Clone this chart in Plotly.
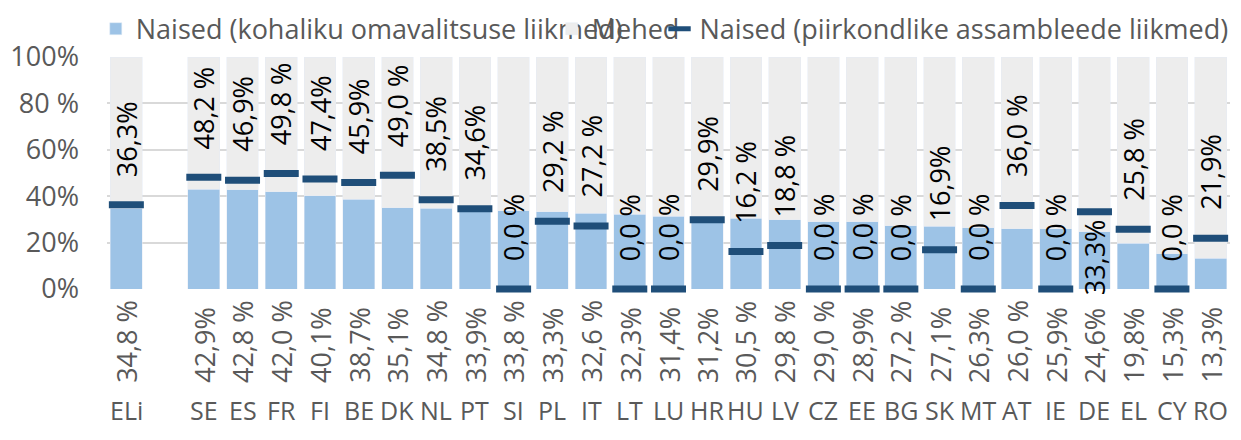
import plotly.graph_objects as go

# categories (blank slot after the EU average)
countries = ["ELi", " ", "SE", "ES", "FR", "FI", "BE", "DK", "NL", "PT", "SI", "PL", "IT", "LT",
             "LU", "HR", "HU", "LV", "CZ", "EE", "BG", "SK", "MT", "AT", "IE", "DE", "EL", "CY", "RO"]

# women, local councils (%)
women_local = [34.8, None, 42.9, 42.8, 42.0, 40.1, 38.7, 35.1, 34.8, 33.9, 33.8, 33.3, 32.6, 32.3,
               31.4, 31.2, 30.5, 29.8, 29.0, 28.9, 27.2, 27.1, 26.3, 26.0, 25.9, 24.6, 19.8, 15.3, 13.3]
local_labels = ["34,8 %", "", "42,9%", "42,8 %", "42,0 %", "40,1%", "38,7%", "35,1%", "34,8 %", "33,9%",
                "33,8 %", "33,3%", "32,6 %", "32,3%", "31,4%", "31,2%", "30,5 %", "29,8 %", "29,0 %",
                "28,9%", "27,2 %", "27,1%", "26,3%", "26,0 %", "25,9%", "24,6%", "19,8%", "15,3%", "13,3%"]

# women, regional assemblies (%)
women_regional = [36.3, None, 48.2, 46.9, 49.8, 47.4, 45.9, 49.0, 38.5, 34.6, 0.0, 29.2, 27.2, 0.0,
                  0.0, 29.9, 16.2, 18.8, 0.0, 0.0, 0.0, 16.9, 0.0, 36.0, 0.0, 33.3, 25.8, 0.0, 21.9]
regional_labels = ["36,3%", "", "48,2 %", "46,9%", "49,8 %", "47,4%", "45,9%", "49,0 %", "38,5%", "34,6%",
                   "0,0 %", "29,2 %", "27,2 %", "0,0 %", "0,0 %", "29,9%", "16,2 %", "18,8 %", "0,0 %",
                   "0,0 %", "0,0 %", "16,9%", "0,0 %", "36,0 %", "0,0 %", "33,3%", "25,8 %", "0,0 %", "21,9%"]

men = [None if v is None else round(100 - v, 1) for v in women_local]

FONT = "Open Sans"
TXT = "#595959"
FS = 27

fig = go.Figure()
fig.add_trace(go.Bar(x=countries, y=women_local, name="Naised (kohaliku omavalitsuse liikmed)",
                     marker_color="#9DC3E6", legend="legend"))
fig.add_trace(go.Bar(x=countries, y=men, name="Mehed", marker_color="#EDEDED", legend="legend2"))
fig.add_trace(go.Scatter(x=countries, y=women_regional, mode="markers",
                         name="Naised (piirkondlike assambleede liikmed)",
                         marker=dict(symbol="line-ew", size=25, color="#1F4E79",
                                     line=dict(width=7, color="#1F4E79")),
                         cliponaxis=False, legend="legend3"))

ann = []
for c, loc, reg, rl, ll in zip(countries, women_local, women_regional, regional_labels, local_labels):
    if loc is None:
        continue
    if c == "DE":  # this label sits under its marker in the original
        ann.append(dict(x=c, y=reg, text=rl, textangle=-90, showarrow=False,
                        yanchor="middle", yshift=-45,
                        font=dict(size=FS, color="black", family=FONT)))
    else:
        ann.append(dict(x=c, y=reg, text=rl, textangle=-90, showarrow=False,
                        yanchor="bottom", yshift=26,
                        font=dict(size=FS, color="black", family=FONT)))
    ann.append(dict(x=c, y=0, text=ll, textangle=-90, showarrow=False, yanchor="bottom",
                    yshift=-96, font=dict(size=FS, color=TXT, family=FONT)))
    ann.append(dict(x=c, y=0, text=c, showarrow=False, yanchor="middle", yshift=-121,
                    font=dict(size=25, color=TXT, family=FONT)))

leg = dict(orientation="h", yanchor="middle", y=1.12, xanchor="left", bgcolor="rgba(0,0,0,0)",
           font=dict(size=FS, color=TXT, family=FONT))
# page body adds an 8px margin, so the figure is 8px smaller than the window
fig.update_layout(
    barmode="stack", bargap=0.18,
    width=1233, height=432,
    margin=dict(l=99, r=11, t=49, b=151, autoexpand=False),
    plot_bgcolor="white", paper_bgcolor="white",
    font=dict(family=FONT, color=TXT),
    showlegend=True,
    legend={**leg, "x": -0.01},
    legend2={**leg, "x": 0.396},
    legend3={**leg, "x": 0.492},
    annotations=ann,
    xaxis=dict(type="category", categoryorder="array", categoryarray=countries,
               range=[-0.5, len(countries) - 0.5],
               showticklabels=False, showgrid=False, zeroline=False, ticks=""),
    yaxis=dict(range=[0, 100], tickvals=[0, 20, 40, 60, 80, 100],
               ticktext=["0%", "20%", "40%", "60%", "80 %", "100%"],
               showgrid=True, gridcolor="#D9D9D9", gridwidth=1.5, zeroline=False,
               tickfont=dict(size=FS, color=TXT, family=FONT), ticks="", ticklabelstandoff=27),
)
fig.write_html("out.html")
